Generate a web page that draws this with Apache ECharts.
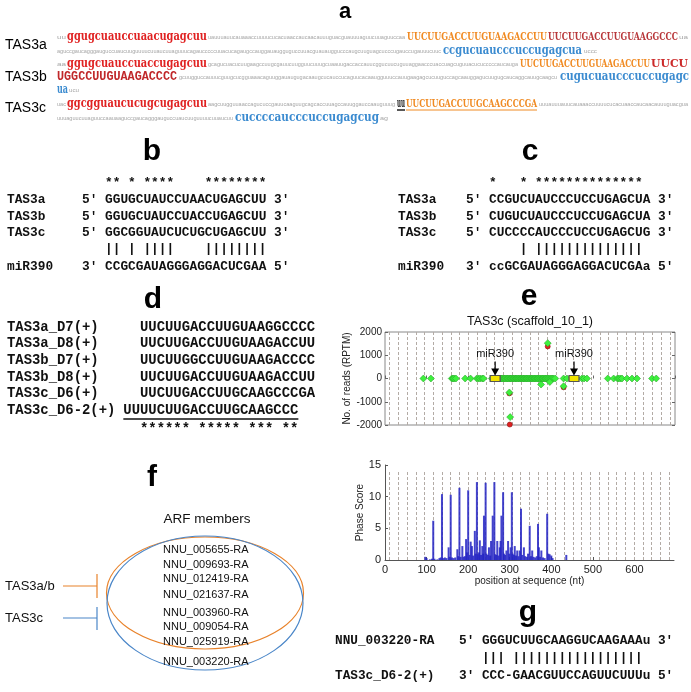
<!DOCTYPE html>
<html><head><meta charset="utf-8">
<script src="https://cdn.jsdelivr.net/npm/echarts@6/dist/echarts.min.js"></script>
<style>html,body{margin:0;padding:0;background:#fff}#c{width:691px;height:692px}</style>
</head><body><div id="c"></div>
<script>
// ---------------- DATA ----------------
// panel b: miR390 target site 1 alignment
const bNames = ['TAS3a', 'TAS3b', 'TAS3c'];
const bSeqs = ['GGUGCUAUCCUAACUGAGCUU', 'GGUGCUAUCCUACCUGAGCUU', 'GGCGGUAUCUCUGCUGAGCUU'];
const bStars = '** * ****    ********';
const bBars = '|| | ||||    ||||||||';
const bMiR = 'CCGCGAUAGGGAGGACUCGAA';
// panel c: miR390 target site 2 alignment
const cSeqs = ['CCGUCUAUCCCUCCUGAGCUA', 'CUGUCUAUCCCUCCUGAGCUA', 'CUCCCCAUCCCUCCUGAGCUG'];
const cStars = '*   * **************';
const cBars = '    | ||||||||||||||';
const cMiR = 'ccGCGAUAGGGAGGACUCGAa';
// panel d: tasiARFs
const dNames = ['TAS3a_D7(+)', 'TAS3a_D8(+)', 'TAS3b_D7(+)', 'TAS3b_D8(+)', 'TAS3c_D6(+)', 'TAS3c_D6-2(+)'];
const dSeqs = ['UUCUUGACCUUGUAAGGCCCC', 'UUCUUGACCUUGUAAGACCUU', 'UUCUUGGCCUUGUAAGACCCC', 'UUCUUGACCUUGUAAGACCUU', 'UUCUUGACCUUGCAAGCCCGA', 'UUUUCUUGACCUUGCAAGCCC'];
const dStars = '****** ***** *** **';
// panel e: small RNA reads along TAS3c (position nt, RPTM)
const readsPlus = [[92,0],[110,0],[160,0],[163,0],[166,0],[170,0],[192,0],[205,0],[220,0],[224,0],[228,0],[233,0],[236,0],[256,0],
  [270,0],[272,0],[275,0],[277,0],[279,0],[281,0],[284,0],[286,0],[288,0],[291,0],[293,0],[295,0],[298,0],[300,0],[302,0],[305,0],
  [307,0],[309,0],[312,0],[314,0],[316,0],[319,0],[321,0],[324,0],[326,0],[328,0],[331,0],[333,0],[335,0],[338,0],[340,0],[342,0],
  [345,0],[347,0],[350,0],[352,0],[354,0],[357,0],[359,0],[361,0],[364,0],[366,0],[368,0],[371,0],[373,0],[376,0],[378,0],[380,0],
  [383,0],[385,0],[387,0],[390,0],[392,0],[395,0],[398,0],[401,0],[404,0],[408,0],
  [428,0],[436,0],[472,0],[477,0],[484,0],[534,0],[548,0],[557,0],[560,0],[564,0],[568,0],[580,0],[592,0],[604,0],[640,0],[650,0],
  [298,-600],[300,-1660],[390,1520],[374,-260],[395,-150],[428,-330]];
const readsMinus = [[390,1380],[299,-1980],[298,-640],[428,-380]];
const mir390Sites = [264, 453];
const phaseLines = [11,32,53,74,95,116,137,158,179,200,221,242,263,284,305,326,347,368,389,410,431,452,473,494,515,536,557,578,599,620,641,662,683];
// phase score bars
const phaseX = [97,100,108,113,116,119,126,131,134,137,140,144,148,153,155,158,161,165,169,174,176,179,182,186,189,192,195,197,200,203,206,209,212,216,218,221,223,226,228,231,234,236,238,242,244,247,250,253,255,259,263,265,268,270,273,276,278,280,284,286,289,292,296,299,302,305,307,310,312,315,318,321,324,327,330,334,337,341,344,348,351,354,357,361,365,368,370,373,376,380,384,390,393,396,400,403,436];
const phaseY = [0.5,0.3,0.1,0.2,6.2,0.2,0.1,0.3,0.4,10.4,0.3,0.4,0.3,2.0,0.5,10.3,0.4,0.3,0.4,1.7,0.6,11.4,0.5,2.2,0.5,0.6,3.3,1.2,11.0,0.8,2.9,2.2,0.7,4.6,1.0,12.3,0.9,1.2,3.1,0.8,2.2,1.0,7.0,12.2,1.0,0.8,2.0,0.7,3.0,7.0,12.3,0.9,0.8,3.0,0.7,2.0,3.0,7.0,10.7,1.0,0.8,1.5,3.0,1.0,2.0,10.7,1.0,0.8,2.2,0.7,1.5,0.6,1.5,8.1,0.8,2.0,0.6,0.5,1.0,5.4,0.6,1.5,0.5,0.4,0.6,5.7,2.0,0.5,1.5,0.4,0.3,7.3,1.0,0.9,0.7,0.3,0.8];
const readsTicks = [-2000, -1000, 0, 1000, 2000];
const positionTicks = [0, 100, 200, 300, 400, 500, 600];
// panel f
const arfMembers = ['NNU_005655-RA', 'NNU_009693-RA', 'NNU_012419-RA', 'NNU_021637-RA', 'NNU_003960-RA', 'NNU_009054-RA', 'NNU_025919-RA', 'NNU_003220-RA'];
// panel g
const gTarget = 'GGGUCUUGCAAGGUCAAGAAAu';
const gBars = '||| |||||||||||||||||';
const gTasi = 'CCC-GAACGUUCCAGUUCUUUu';
// panel a gene sequence segments
const FILLER = 'uuuauuuauucauaaaccuuuucucacuaaccaucaacauuuguacguauuuaguucuuaguuccaauaaguccgaucagggauguccuaucuuguuuucuuaucuuaguuucagaucccccuuacucagaugccauggauaugguguccuuacguauauggucccaugcuuguagcucccugauccugauuucuucucccaagcagucuacucuugaagccuugcgauucuugguucuuugcuaauugaccaccauucggucuucuguuaggaacccuaccuagcuguuacucucccccaucaugagcuugguccauuucguugcucgguaaacaguuggauaugugacaaugcucauccucaguucacaaugguuuccauugaagagcucuuguccagcaauggagucuugugcaucaggcauugcaagcuucuuacaagcuugguuaaccagucuccgauucaaguugcagcaccuuagccauuggauccaauguuugcaucccugccuuaugaauugccuucaauggcuaaggcauccuuugccaaguuguuucaaccuuagcuuagcaugauccaugcaaugccuuggauccaucgcuuggaucuagcucuuccaugcuagaucaggcuuagcaucc';

// ---------------- HELPERS ----------------
const ctx = document.createElement('canvas').getContext('2d');
function tw(text, font) { ctx.font = font; return ctx.measureText(text).width; }
const G = [];
function txt(x, y, text, font, fill, align) {
  const e = {type: 'text', x: x, y: y, silent: true,
    style: {text: text, font: font, fill: fill || '#000', textAlign: align || 'left', textVerticalAlign: 'middle'}};
  G.push(e); return e;
}
function fit(x0, x1, y, text, font, fill) {
  const e = txt(x0, y, text, font, fill);
  e.scaleX = (x1 - x0) / tw(text, font);
  return e;
}
let fp = 0;
function gray(x0, x1, y) {
  const font = '5.5px "Liberation Sans"';
  let n = 1;
  while (tw(FILLER.substr(fp, n + 1), font) <= x1 - x0 && n < 400) n++;
  const s = FILLER.substr(fp, n);
  fp += n; if (fp > FILLER.length - 200) fp = 0;
  return fit(x0, x1, y, s, font, '#a6a6a6');
}
function line(pts, color, w) {
  G.push({type: 'polyline', silent: true, shape: {points: pts}, style: {stroke: color, lineWidth: w || 1, fill: null}});
}
const SANS = '"Liberation Sans", Arial, sans-serif';
const MONO = '"Liberation Mono", "Courier New", monospace';
const RED = '#e02222', ORG = '#f08a22', DRED = '#b8373a', BLUE = '#3b8bd0';
const SERIF_LC = 'bold 12px "DejaVu Serif"';
const SERIF_UC = 'bold 11px "DejaVu Serif"';

// ---------------- PANEL a ----------------
txt(345, 12, 'a', 'bold 22px ' + SANS, '#000', 'center');
txt(5, 45, 'TAS3a', '14px ' + SANS);
txt(5, 77, 'TAS3b', '14px ' + SANS);
txt(5, 108, 'TAS3c', '14px ' + SANS);
// row 1
let y = 37;
gray(57, 66, y); fit(67, 207, y, 'ggugcuauccuaacugagcuu', SERIF_LC, RED); gray(208, 405, y);
fit(407, 547, y, 'UUCUUGACCUUGUAAGACCUU', SERIF_UC, ORG); fit(548, 678, y, 'UUCUUGACCUUGUAAGGCCC', SERIF_UC, DRED); gray(679, 688, y);
// row 2
y = 51;
gray(57, 441, y); fit(443, 582, y, 'ccgucuaucccuccugagcua', SERIF_LC, BLUE); gray(584, 597, y);
// row 3
y = 64;
gray(57, 66, y); fit(67, 207, y, 'ggugcuauccuaccugagcuu', SERIF_LC, RED); gray(208, 518, y);
fit(520, 650, y, 'UUCUUGACCUUGUAAGACCUU', SERIF_UC, ORG); fit(651, 688, y, 'UUCU', SERIF_UC, '#cc2a2a');
// row 4
y = 77;
fit(57, 177, y, 'UGGCCUUGUAAGACCCC', 'bold 12px ' + MONO, '#c0282a'); gray(179, 557, y);
fit(560, 689, y, 'cugucuaucccuccugagc', SERIF_LC, BLUE);
// row 5
y = 90;
fit(57, 68, y, 'ua', SERIF_LC, BLUE); gray(69, 79, y);
// row 6
y = 104;
gray(57, 66, y); fit(67, 207, y, 'ggcgguaucucugcugagcuu', SERIF_LC, RED); gray(208, 395, y);
fit(397, 405, y, 'uu', SERIF_LC, '#111'); fit(406, 537, y, 'UUCUUGACCUUGCAAGCCCGA', SERIF_UC, ORG); gray(539, 688, y);
line([[397, 110], [405, 110]], '#111', 1.4); line([[406, 110], [537, 110]], ORG, 1);
// row 7
y = 118;
gray(57, 233, y); fit(235, 379, y, 'cuccccaucccuccugagcug', SERIF_LC, BLUE); gray(380, 388, y);

// ---------------- PANEL b / c ----------------
const FB = 'bold 12.8px ' + MONO;
const cwB = tw('M', FB);
txt(152, 152, 'b', 'bold 30px ' + SANS, '#000', 'center');
txt(530, 152, 'c', 'bold 30px ' + SANS, '#000', 'center');
const rowsY = [200, 217, 233];
function alignBlock(lx, px, seqs, stars, bars, mir) {
  const sx = px + 3 * cwB;
  txt(sx, 183, stars, FB, '#111');
  for (let i = 0; i < 3; i++) {
    txt(lx, rowsY[i], bNames[i], FB, '#111');
    txt(px, rowsY[i], "5' " + seqs[i] + " 3'", FB, '#111');
  }
  txt(sx, 249, bars, FB, '#111');
  txt(lx, 267, 'miR390', FB, '#111');
  txt(px, 267, "3' " + mir + " 5'", FB, '#111');
}
alignBlock(7, 82, bSeqs, bStars, bBars, bMiR);
alignBlock(398, 466, cSeqs, cStars, cBars, cMiR);

// ---------------- PANEL d ----------------
const FD = 'bold 13.9px ' + MONO;
const cwD = tw('M', FD);
txt(153, 300, 'd', 'bold 30px ' + SANS, '#000', 'center');
const dY = [327, 343, 360, 377, 393, 410];
for (let i = 0; i < dNames.length; i++) {
  txt(7, dY[i], dNames[i], FD, '#111');
  txt(i === 5 ? 140 - 2 * cwD : 140, dY[i], dSeqs[i], FD, '#111');
}
line([[140 - 2 * cwD, 419], [140 + 19 * cwD, 419]], '#111', 1.5);
txt(140, 429, dStars, FD, '#111');

// ---------------- PANEL e labels ----------------
txt(529, 297, 'e', 'bold 30px ' + SANS, '#000', 'center');
txt(530, 322, 'TAS3c (scaffold_10_1)', '12.5px ' + SANS, '#111', 'center');

// ---------------- PANEL f ----------------
txt(152, 478, 'f', 'bold 30px ' + SANS, '#000', 'center');
txt(207, 519, 'ARF members', '13.5px ' + SANS, '#111', 'center');
G.push({type: 'ellipse', silent: true, shape: {cx: 205, cy: 593, rx: 98.5, ry: 56}, style: {fill: null, stroke: '#e8822a', lineWidth: 1.2}});
G.push({type: 'ellipse', silent: true, shape: {cx: 205, cy: 603, rx: 98, ry: 67}, style: {fill: null, stroke: '#4a86c8', lineWidth: 1.2}});
const fY = [550, 565, 579, 595, 613, 627, 642, 662];
arfMembers.forEach((m, i) => txt(163, fY[i], m, '11px ' + SANS, '#111'));
txt(5, 586, 'TAS3a/b', '13px ' + SANS, '#111');
txt(5, 618, 'TAS3c', '13px ' + SANS, '#111');
line([[63, 586], [97, 586]], '#e8822a', 1.2); line([[97, 574], [97, 598]], '#e8822a', 1.2);
line([[63, 618], [97, 618]], '#4a86c8', 1.2); line([[97, 607], [97, 630]], '#4a86c8', 1.2);

// ---------------- PANEL g ----------------
const FG = 'bold 12.75px ' + MONO;
const cwG = tw('M', FG);
txt(528, 613, 'g', 'bold 30px ' + SANS, '#000', 'center');
txt(335, 641, 'NNU_003220-RA', FG, '#111');
txt(459, 641, "5' " + gTarget + " 3'", FG, '#111');
txt(459 + 3 * cwG, 658, gBars, FG, '#111');
txt(335, 676, 'TAS3c_D6-2(+)', FG, '#111');
txt(459, 676, "3' " + gTasi + " 5'", FG, '#111');

// ---------------- CHART ----------------
const chart = echarts.init(document.getElementById('c'));
const AX = '#666';
const lineStyleDash = {type: [3, 2], color: '#b3aba5', width: 1};
const option = {
  animation: false,
  textStyle: {fontFamily: SANS},
  grid: [
    {left: 385, top: 332, width: 290, height: 93, show: true, borderColor: '#888', borderWidth: 1, backgroundColor: 'transparent'},
    {left: 385, top: 465, width: 289, height: 95}
  ],
  xAxis: [
    {gridIndex: 0, type: 'value', min: 0, max: 695, interval: 100, axisLine: {show: false},
      axisTick: {inside: true, length: 3, lineStyle: {color: AX}}, axisLabel: {show: false}, splitLine: {show: false}},
    {gridIndex: 1, type: 'value', min: 0, max: 695, interval: 100,
      axisLine: {show: true, lineStyle: {color: '#555'}}, axisTick: {inside: true, length: 3, lineStyle: {color: '#555'}},
      axisLabel: {fontSize: 11, color: '#222', margin: 4, showMaxLabel: false,
        formatter: v => positionTicks.indexOf(v) >= 0 ? String(v) : ''},
      splitLine: {show: false},
      name: 'position at sequence (nt)', nameLocation: 'middle', nameGap: 16, nameTextStyle: {fontSize: 10, color: '#222'}}
  ],
  yAxis: [
    {gridIndex: 0, type: 'value', min: -2000, max: 2000, interval: 1000, axisLine: {show: false},
      axisTick: {inside: true, length: 3, lineStyle: {color: AX}},
      axisLabel: {fontSize: 10, color: '#222', margin: 3, formatter: v => readsTicks.indexOf(v) >= 0 ? String(v) : ''},
      splitLine: {show: false},
      name: 'No. of reads (RPTM)', nameLocation: 'middle', nameGap: 27, nameTextStyle: {fontSize: 10, color: '#222'}},
    {gridIndex: 0, type: 'value', position: 'right', min: -2000, max: 2000, interval: 1000, axisLine: {show: false},
      axisTick: {inside: true, length: 3, lineStyle: {color: AX}}, axisLabel: {show: false}, splitLine: {show: false}},
    {gridIndex: 1, type: 'value', min: 0, max: 15, interval: 5,
      axisLine: {show: true, lineStyle: {color: '#555'}}, axisTick: {inside: true, length: 3, lineStyle: {color: '#555'}},
      axisLabel: {fontSize: 11, color: '#222', margin: 4}, splitLine: {show: false},
      name: 'Phase Score', nameLocation: 'middle', nameGap: 17, nameTextStyle: {fontSize: 10, color: '#222'}}
  ],
  series: [
    {type: 'scatter', xAxisIndex: 0, yAxisIndex: 0, data: [], z: 1, silent: true,
      markLine: {silent: true, symbol: ['none', 'none'], label: {show: false}, lineStyle: lineStyleDash,
        data: phaseLines.map(v => ({xAxis: v}))}},
    {type: 'scatter', xAxisIndex: 1, yAxisIndex: 2, data: [], z: 1, silent: true,
      markLine: {silent: true, symbol: ['none', 'none'], label: {show: false}, lineStyle: lineStyleDash,
        data: phaseLines.map(v => [{coord: [v, 0]}, {coord: [v, 14]}])}},
    {type: 'scatter', name: 'minus', xAxisIndex: 0, yAxisIndex: 0, z: 9, data: readsMinus,
      symbol: 'circle', symbolSize: 5, itemStyle: {color: '#e02020', borderColor: '#8a1010', borderWidth: 0.6, opacity: 1}},
    {type: 'scatter', name: 'plus', xAxisIndex: 0, yAxisIndex: 0, z: 10, data: readsPlus,
      symbol: 'diamond', symbolSize: 7, itemStyle: {color: '#3ef03e', borderColor: '#1f9a1f', borderWidth: 0.5, opacity: 1}},
    {type: 'scatter', name: 'mir390', xAxisIndex: 0, yAxisIndex: 0, z: 11, data: mir390Sites.map(v => [v, 0]),
      symbol: 'rect', symbolSize: [10, 6], itemStyle: {color: '#f2e400', borderColor: '#555', borderWidth: 1, opacity: 1}},
    {type: 'scatter', name: 'arrow', xAxisIndex: 0, yAxisIndex: 0, z: 12, data: mir390Sites.map(v => [v, 0]),
      symbol: 'path://M3.4,0 L4.6,0 L4.6,7 L8,7 L4,14 L0,7 L3.4,7 Z', symbolSize: [8, 14], symbolOffset: [0, -10],
      itemStyle: {color: '#000', opacity: 1},
      label: {show: true, position: 'top', distance: 2, formatter: 'miR390', fontSize: 11, color: '#111'}},
    {type: 'bar', xAxisIndex: 1, yAxisIndex: 2, z: 10, barWidth: 2,
      data: phaseX.map((x, i) => [x, phaseY[i]]),
      itemStyle: {color: 'rgba(35,35,195,0.85)'}}
  ],
  graphic: {elements: G}
};
chart.setOption(option);
</script></body></html>
